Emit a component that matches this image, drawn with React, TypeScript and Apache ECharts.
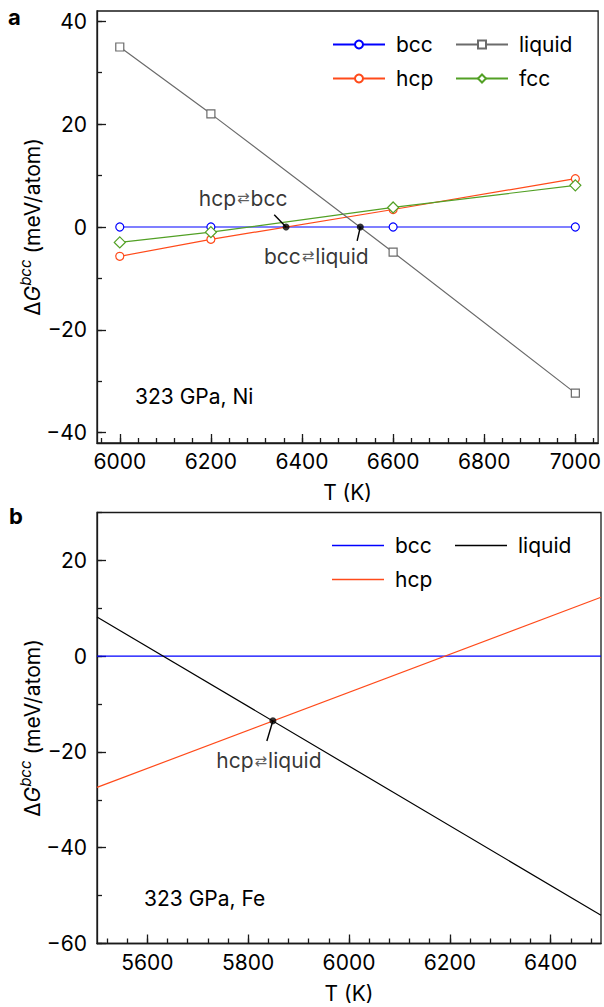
import React, { useEffect, useRef } from 'react';
import * as echarts from 'echarts';

const FONT = 'Inter, "Liberation Sans", Arial, sans-serif';
const FS = 21;

// ---- Panel a: 323 GPa, Ni ----
const tempA = [6000, 6200, 6600, 7000];
const bccA = [0, 0, 0, 0];
const hcpA = [-5.7, -2.4, 3.4, 9.4];
const fccA = [-3.0, -1.0, 3.8, 8.1];
const liquidA = [35.0, 22.0, -4.9, -32.3];
const transitionsA = [[6365, 0], [6528, 0]];
const transitionLabelsA = ['hcp⇄bcc', 'bcc⇄liquid'];
const leaderEndsA = [[6339, 2.4], [6521, -2.7]];
const xTicksA = [6000, 6200, 6400, 6600, 6800, 7000];
const yTicksA = [-40, -20, 0, 20, 40];
const xRangeA = [5950, 7050];
const yRangeA = [-42, 42];

// ---- Panel b: 323 GPa, Fe ----
const tempB = [5500, 6500];
const bccB = [0, 0];
const hcpB = [-27.4, 12.3];
const liquidB = [8.2, -54.1];
const transitionsB = [[5849, -13.5]];
const transitionLabelsB = ['hcp⇄liquid'];
const leaderEndsB = [[5837, -17.7]];
const xTicksB = [5600, 5800, 6000, 6200, 6400];
const yTicksB = [-60, -40, -20, 0, 20];
const xRangeB = [5500, 6500];
const yRangeB = [-60, 30];

const BLUE = '#0000ff';
const RED = '#ff4a1a';
const GREEN = '#52a025';
const GREY = '#6b6b6b';
const BLACK = '#000000';

function steps(from: number, to: number, step: number) {
  const out: number[] = [];
  for (let v = from; v <= to + 1e-9; v += step) out.push(Math.round(v * 1000) / 1000);
  return out;
}

const AX_COLOR = '#1a1a1a';

function majorX(gridIndex: number, range: number[], ticks: number[]) {
  return {
    type: 'value', gridIndex, min: range[0], max: range[1], position: 'bottom',
    splitLine: { show: false },
    axisLine: { show: true, onZero: false, lineStyle: { color: AX_COLOR, width: 1.3 } },
    axisTick: { show: true, inside: true, length: 9, customValues: ticks, lineStyle: { color: AX_COLOR, width: 1.3 } },
    axisLabel: { show: true, customValues: ticks, margin: 8, fontSize: FS, color: '#000', fontFamily: FONT, formatter: (v: number) => String(v) },
    name: 'T (K)', nameLocation: 'middle', nameGap: 39,
    nameTextStyle: { fontSize: FS, color: '#000', fontFamily: FONT },
  };
}
function minorX(gridIndex: number, range: number[], ticks: number[]) {
  return {
    type: 'value', gridIndex, min: range[0], max: range[1], position: 'bottom',
    splitLine: { show: false },
    axisLine: { show: false, onZero: false },
    axisTick: { show: true, inside: true, length: 5, customValues: ticks, lineStyle: { color: AX_COLOR, width: 1.3 } },
    axisLabel: { show: false },
  };
}
function majorY(gridIndex: number, range: number[], ticks: number[]) {
  return {
    type: 'value', gridIndex, min: range[0], max: range[1], position: 'left',
    splitLine: { show: false },
    axisLine: { show: true, onZero: false, lineStyle: { color: AX_COLOR, width: 1.3 } },
    axisTick: { show: true, inside: true, length: 9, customValues: ticks, lineStyle: { color: AX_COLOR, width: 1.3 } },
    axisLabel: {
      show: true, customValues: ticks, margin: 10, fontSize: FS, color: '#000', fontFamily: FONT,
      formatter: (v: number) => (v < 0 ? '\u2212' + Math.abs(v) : String(v)),
    },
  };
}
function minorY(gridIndex: number, range: number[], ticks: number[]) {
  return {
    type: 'value', gridIndex, min: range[0], max: range[1], position: 'left',
    splitLine: { show: false },
    axisLine: { show: false, onZero: false },
    axisTick: { show: true, inside: true, length: 5, customValues: ticks, lineStyle: { color: AX_COLOR, width: 1.3 } },
    axisLabel: { show: false },
  };
}

function markedLine(name: string, xs: number[], ys: number[], color: string, symbol: string, size: number, axis: number) {
  return {
    type: 'line', name, xAxisIndex: axis, yAxisIndex: axis,
    data: xs.map((x, i) => [x, ys[i]]),
    symbol, symbolSize: size, showSymbol: symbol !== 'none',
    lineStyle: { color, width: 1.2 },
    itemStyle: symbol !== 'none' ? { color: '#ffffff', borderColor: color, borderWidth: 1.2 } : { color },
    emphasis: { disabled: true },
  };
}

const richLabel = {
  t: { fontSize: FS, fontFamily: FONT, color: '#000' },
  a: { fontSize: 15, fontFamily: '"DejaVu Sans", sans-serif', color: '#333', padding: [0, 1, 0, 1] },
};
const fmtTransition = (s: string) => s.split('⇄').map((p) => `{t|${p}}`).join('{a|⇄}');

function transitionSeries(points: number[][], labels: string[], offsets: number[][], axis: number) {
  return {
    type: 'scatter', xAxisIndex: axis, yAxisIndex: axis, symbol: 'circle', symbolSize: 7, z: 10,
    itemStyle: { color: '#000' },
    emphasis: { disabled: true },
    data: points.map((p, i) => ({
      value: p,
      label: {
        show: true, position: 'inside', offset: offsets[i], formatter: fmtTransition(labels[i]),
        rich: richLabel,
      },
    })),
  };
}
function leaderSeries(from: number[], to: number[], axis: number) {
  return {
    type: 'line', xAxisIndex: axis, yAxisIndex: axis, symbol: 'none', z: 9,
    data: [from, to], lineStyle: { color: '#000', width: 1.4 }, emphasis: { disabled: true }, silent: true,
  };
}

const legendBase = {
  orient: 'vertical', itemWidth: 52, itemHeight: 10, itemGap: 13, selectedMode: false, padding: 0,
  textStyle: { fontSize: FS, fontFamily: FONT, color: '#000', lineHeight: 21, padding: [0, 0, 0, 6] },
  formatter: (n: string) => n.trim(),
};
const lineOnlyLegend = { ...legendBase, itemHeight: 1.4 };

const yNameRich = {
  m: { fontSize: 21, fontFamily: FONT, color: '#000', lineHeight: 28 },
  g: { fontSize: 21, fontFamily: FONT, color: '#000', fontStyle: 'italic', lineHeight: 28 },
  s: { fontSize: 15, fontFamily: FONT, color: '#000', fontStyle: 'italic', lineHeight: 16, verticalAlign: 'top' },
};
const yNameText = '{m|Δ}{g|G}{s|bcc}{m| (meV/atom)}';

export default function App() {
  const ref = useRef<HTMLDivElement>(null);
  useEffect(() => {
    if (!ref.current) return;
    const chart = echarts.init(ref.current, undefined, { renderer: 'svg' });
    const option: any = {
      animation: false,
      backgroundColor: '#ffffff',
      textStyle: { fontFamily: FONT },
      grid: [
        { left: 97, top: 11, width: 503, height: 432, show: true, borderColor: AX_COLOR, borderWidth: 1.3, backgroundColor: 'transparent' },
        { left: 97, top: 512.5, width: 504, height: 431, show: true, borderColor: AX_COLOR, borderWidth: 1.3, backgroundColor: 'transparent' },
      ],
      xAxis: [
        majorX(0, xRangeA, xTicksA),
        minorX(0, xRangeA, steps(5960, 7040, 40)),
        majorX(1, xRangeB, xTicksB),
        minorX(1, xRangeB, steps(5520, 6480, 40)),
      ],
      yAxis: [
        majorY(0, yRangeA, yTicksA),
        minorY(0, yRangeA, steps(-40, 40, 10)),
        majorY(1, yRangeB, yTicksB),
        minorY(1, yRangeB, steps(-60, 30, 10)),
      ],
      legend: [
        { ...legendBase, data: ['bcc', 'hcp'], left: 332, top: 34 },
        { ...legendBase, data: ['liquid', 'fcc'], left: 455, top: 34 },
        { ...lineOnlyLegend, data: [{ name: 'bcc ', icon: 'rect' }, { name: 'hcp ', icon: 'rect' }], left: 332, top: 535 },
        { ...lineOnlyLegend, data: [{ name: 'liquid ', icon: 'rect' }], left: 455, top: 535 },
      ],
      series: [
        markedLine('bcc', tempA, bccA, BLUE, 'circle', 8, 0),
        markedLine('hcp', tempA, hcpA, RED, 'circle', 8, 0),
        markedLine('fcc', tempA, fccA, GREEN, 'diamond', 11, 0),
        markedLine('liquid', tempA, liquidA, GREY, 'rect', 8, 0),
        leaderSeries(transitionsA[0], leaderEndsA[0], 0),
        leaderSeries(transitionsA[1], leaderEndsA[1], 0),
        transitionSeries(transitionsA, transitionLabelsA, [[-43, -29], [-44, 29]], 0),

        markedLine('bcc ', tempB, bccB, BLUE, 'none', 0, 2),
        markedLine('hcp ', tempB, hcpB, RED, 'none', 0, 2),
        markedLine('liquid ', tempB, liquidB, BLACK, 'none', 0, 2),
        leaderSeries(transitionsB[0], leaderEndsB[0], 2),
        transitionSeries(transitionsB, transitionLabelsB, [[-4, 40]], 2),
      ],
      graphic: [
        { type: 'text', left: 8, top: 6, style: { text: 'a', fontSize: 22, fontWeight: 'bold', fontFamily: FONT, fill: '#000' } },
        { type: 'text', left: 9, top: 505, style: { text: 'b', fontSize: 22, fontWeight: 'bold', fontFamily: FONT, fill: '#000' } },
        { type: 'text', x: 32, y: 227, rotation: Math.PI / 2, style: { text: yNameText, rich: yNameRich, align: 'center', verticalAlign: 'middle' } },
        { type: 'text', x: 32, y: 728, rotation: Math.PI / 2, style: { text: yNameText, rich: yNameRich, align: 'center', verticalAlign: 'middle' } },
        { type: 'text', x: 135, y: 396, style: { text: '323 GPa, Ni', fontSize: FS, fontFamily: FONT, fill: '#000', verticalAlign: 'middle' } },
        { type: 'text', x: 144, y: 898, style: { text: '323 GPa, Fe', fontSize: FS, fontFamily: FONT, fill: '#000', verticalAlign: 'middle' } },
      ],
    };
    chart.setOption(option);
    return () => chart.dispose();
  }, []);
  return <div ref={ref} style={{ position: 'absolute', left: 0, top: 0, width: 604, height: 1007 }} />;
}
